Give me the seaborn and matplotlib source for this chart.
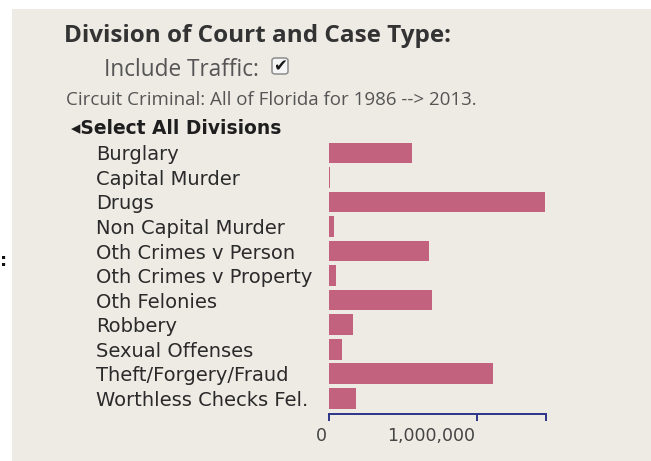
import matplotlib
matplotlib.use("Agg")
import matplotlib.pyplot as plt
import matplotlib.transforms as mtransforms
from matplotlib.patches import Rectangle, FancyBboxPatch
import seaborn as sns
import pandas as pd

# case counts, Circuit Criminal, all of Florida 1986-2013
divisions = ["Burglary", "Capital Murder", "Drugs", "Non Capital Murder",
             "Oth Crimes v Person", "Oth Crimes v Property", "Oth Felonies",
             "Robbery", "Sexual Offenses", "Theft/Forgery/Fraud",
             "Worthless Checks Fel."]
cases = [559000, 9000, 1462000, 36000, 678000, 50000, 698000,
         160000, 88000, 1106000, 185000]
x_ticks = [0, 1000000, 1466000]
x_tick_labels = ["0", "1,000,000", ""]

df = pd.DataFrame({"division": divisions, "cases": cases})

W, H = 651, 461
bg = "#eeebe5"
navy = "#2b3588"
fig = plt.figure(figsize=(W / 100, H / 100), dpi=100)
fig.patch.set_facecolor("white")

# beige panel behind everything
fig.patches.append(Rectangle((12 / W, 0), 1 - 12 / W, 1 - 9 / H, transform=fig.transFigure,
                             facecolor=bg, edgecolor="none", zorder=-10))

def px(x, y):
    return x / W, 1 - y / H

ax = fig.add_axes([329 / W, (H - 414) / H, 217 / W, (414 - 140.6) / H])
ax.set_facecolor("none")
sns.barplot(data=df, x="cases", y="division", orient="h", color="#c2627f",
            saturation=1, width=0.84, ax=ax)

ax.set_xlim(0, x_ticks[-1])
ax.set_ylim(10.64, -0.5)
ax.set_xlabel("")
ax.set_ylabel("")
for s in ["top", "right", "left"]:
    ax.spines[s].set_visible(False)
ax.spines["bottom"].set_color(navy)
ax.spines["bottom"].set_linewidth(1.4)

ax.set_xticks(x_ticks)
ax.set_xticklabels(x_tick_labels, fontfamily="DejaVu Sans", fontsize=12.5, color="#444")
ax.tick_params(axis="x", direction="out", length=5, width=1.4, color=navy, pad=4)
shift = mtransforms.ScaledTranslation(-2 / 100, 0, fig.dpi_scale_trans)
for lab in ax.get_xticklabels():
    lab.set_ha("right")
    lab.set_transform(lab.get_transform() + shift)

ax.tick_params(axis="y", length=0, pad=(329 - 95.7) * 0.72)
for lab in ax.get_yticklabels():
    lab.set_ha("left")
    lab.set_fontfamily("DejaVu Sans")
    lab.set_fontsize(14)
    lab.set_color("#2a2a2a")

# header texts
fig.text(*px(64, 42), "Division of Court and Case Type:", family="Open Sans",
         fontweight="bold", fontsize=17.5, color="#333333", va="baseline")
fig.text(*px(104, 76), "Include Traffic:", family="Open Sans", fontsize=16.3,
         color="#555555", va="baseline")
fig.patches.append(FancyBboxPatch((272 / W, 1 - 74 / H), 16 / W, 16 / H,
                                  boxstyle="round,pad=0,rounding_size=0.005",
                                  transform=fig.transFigure, facecolor="#f6f6f6",
                                  edgecolor="#8c8c8c", linewidth=1.1))
fig.text(*px(280, 66), "\u2714", family="DejaVu Sans", fontsize=12, color="#1a1a1a",
         ha="center", va="center")
fig.text(*px(66, 105), "Circuit Criminal: All of Florida for 1986 --> 2013.",
         family="Open Sans", fontsize=13.5, color="#555555", va="baseline")
fig.text(*px(71, 133.5), "\u25c2Select All Divisions", family="DejaVu Sans",
         fontweight="bold", fontsize=13.4, color="#1e1e1e", va="baseline")
fig.text(*px(0, 266), ":", family="DejaVu Sans", fontweight="bold", fontsize=13,
         color="#111111", va="baseline", ha="left")

fig.savefig("out.png", dpi=100, facecolor=fig.get_facecolor())
